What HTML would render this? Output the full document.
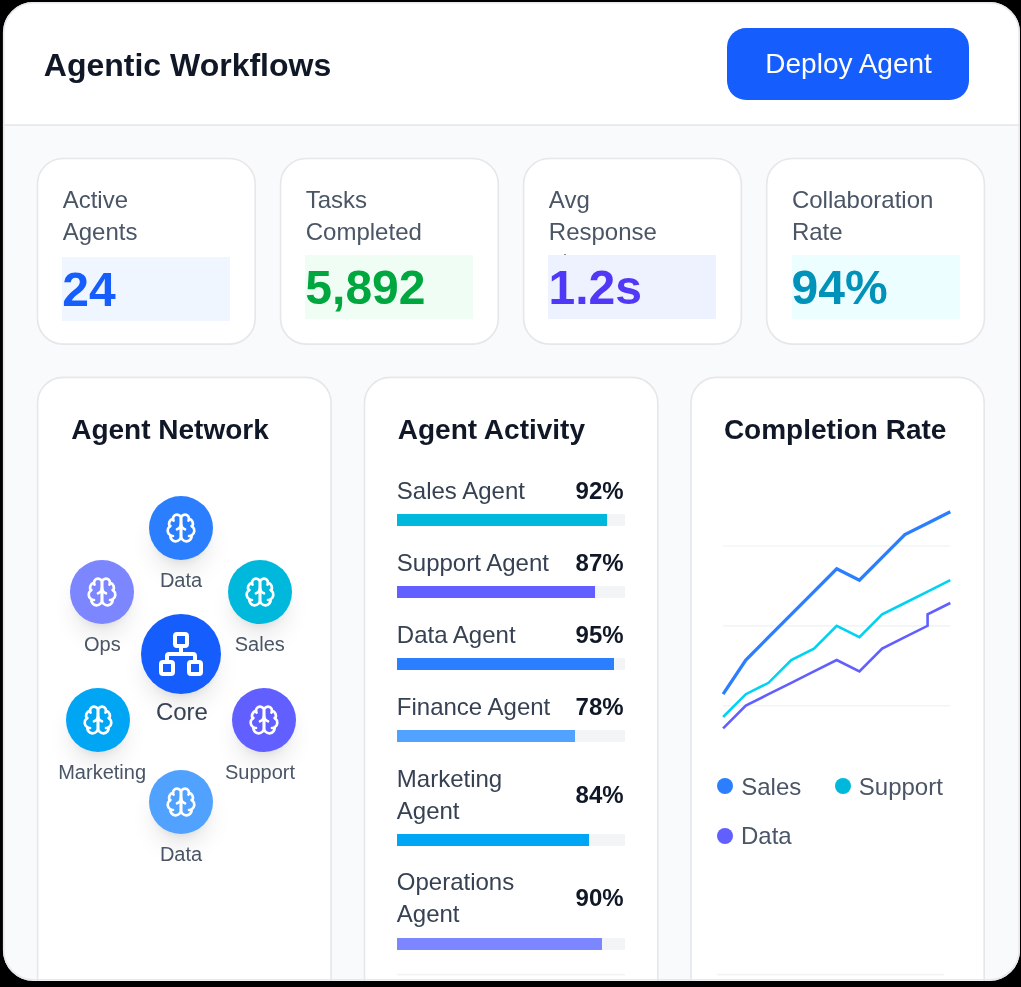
<!DOCTYPE html>
<html><head><meta charset="utf-8">
<style>
*{box-sizing:border-box;margin:0;padding:0}
html,body{width:1021px;height:987px;background:#000;overflow:hidden}
body{font-family:"Liberation Sans",sans-serif;position:relative}
.a{position:absolute}
.t{position:absolute;white-space:nowrap}
#clip{position:absolute;left:2.9px;top:2px;width:1017.1px;height:978.6px;border-radius:30.5px;overflow:hidden}
#c{position:absolute;left:-2.9px;top:-2px;width:1021px;height:987px;will-change:transform}
.title{font-size:32px;font-weight:700;line-height:40px;color:#101828}
.btn{background:#155dfc;border-radius:19.2px;color:#fff;font-size:28px;line-height:72px;text-align:center}
.lbl{font-size:24px;line-height:32px;color:#4a5565}
.vbox{position:absolute;width:168px;height:64px;font-size:48px;font-weight:700;line-height:64px;padding-top:1px}
.h2{font-size:28px;font-weight:700;line-height:36px;color:#101828}
.node{position:absolute;border-radius:50%;box-shadow:0 16px 24px -4.8px rgba(0,0,0,.1),0 6.4px 9.6px -6.4px rgba(0,0,0,.1);display:flex;align-items:center;justify-content:center}
.nl{font-size:20px;line-height:28px;color:#4a5565;text-align:center}
.core{font-size:24px;line-height:32px;color:#364153;text-align:center}
.al{font-size:24px;line-height:32px;color:#364153}
.pct{font-size:24px;line-height:32px;font-weight:700;color:#101828;text-align:right;width:80px}
.track{position:absolute;left:397px;width:228px;height:12px;background:#f3f4f6}
.fill{position:absolute;left:0;top:0;height:12px}
.leg{font-size:24px;line-height:32px;color:#4a5565}
.dot{position:absolute;width:16px;height:16px;border-radius:50%}
</style></head><body>

<div id="clip"><div id="c">
<svg class="a" style="left:0;top:0" width="1021" height="987" viewBox="0 0 1021 987">
<rect x="0" y="0" width="1021" height="987" fill="#f9fafb"/>
<rect x="0" y="0" width="1021" height="124.3" fill="#fff"/>
<rect x="0" y="124.3" width="1021" height="1.6" fill="#e5e7eb"/>
<rect x="37.50" y="158.5" width="217.7" height="185.6" rx="25.6" fill="#fff" stroke="#e5e7eb" stroke-width="1.60"/>
<rect x="280.57" y="158.5" width="217.7" height="185.6" rx="25.6" fill="#fff" stroke="#e5e7eb" stroke-width="1.60"/>
<rect x="523.64" y="158.5" width="217.7" height="185.6" rx="25.6" fill="#fff" stroke="#e5e7eb" stroke-width="1.60"/>
<rect x="766.71" y="158.5" width="217.7" height="185.6" rx="25.6" fill="#fff" stroke="#e5e7eb" stroke-width="1.60"/>
<rect x="37.60" y="377.4" width="293.50" height="700" rx="25.6" fill="#fff" stroke="#e5e7eb" stroke-width="1.60"/>
<rect x="364.50" y="377.4" width="293.30" height="700" rx="25.6" fill="#fff" stroke="#e5e7eb" stroke-width="1.60"/>
<rect x="691.00" y="377.4" width="293.20" height="700" rx="25.6" fill="#fff" stroke="#e5e7eb" stroke-width="1.60"/>
</svg>
<div class="t title" style="left:43.8px;top:44.81px">Agentic Workflows</div>
<div class="a btn" style="left:726.8px;top:28px;width:242.2px;height:72px;padding-left:1.4px">Deploy Agent</div>
<div class="t lbl" style="left:62.70px;top:184.08px">Active<br>Agents</div>
<div class="t lbl" style="left:305.77px;top:184.08px">Tasks<br>Completed</div>
<div class="t lbl" style="left:548.84px;top:184.08px">Avg<br>Response<br>Time</div>
<div class="t lbl" style="left:791.91px;top:184.08px">Collaboration<br>Rate</div>
<div class="vbox" style="left:62.30px;top:257.20px;background:#eff6ff;color:#155dfc">24</div>
<div class="vbox" style="left:305.37px;top:255.00px;background:#f0fdf4;color:#00a63e">5,892</div>
<div class="vbox" style="left:548.44px;top:255.00px;background:#eef2ff;color:#4f39f6">1.2s</div>
<div class="vbox" style="left:791.51px;top:255.00px;background:#ecfeff;color:#0092b8">94%</div>
<div class="a" style="left:563.6px;top:253.6px;width:2.6px;height:1.6px;border-radius:0.8px;background:#4a5565;opacity:.75"></div>
<div class="t h2" style="left:71.2px;top:411.90px">Agent Network</div>
<div class="t h2" style="left:397.8px;top:411.90px">Agent Activity</div>
<div class="t h2" style="left:723.9px;top:411.90px">Completion Rate</div>
<div class="node" style="left:149.00px;top:496.00px;width:64.00px;height:64.00px;background:#2b7fff"><svg width="32" height="32" viewBox="0 0 24 24" fill="none" stroke="#fff" stroke-width="2" stroke-linecap="round" stroke-linejoin="round"><path d="M12 5a3 3 0 1 0-5.997.125 4 4 0 0 0-2.526 5.77 4 4 0 0 0 .556 6.588A4 4 0 1 0 12 18Z"/><path d="M12 5a3 3 0 1 1 5.997.125 4 4 0 0 1 2.526 5.77 4 4 0 0 1-.556 6.588A4 4 0 1 1 12 18Z"/><path d="M15 13a4.5 4.5 0 0 1-3-4 4.5 4.5 0 0 1-3 4"/><path d="M17.599 6.5a3 3 0 0 0 .399-1.375"/><path d="M6.003 5.125A3 3 0 0 0 6.401 6.5"/><path d="M3.477 10.896a4 4 0 0 1 .585-.396"/><path d="M19.938 10.5a4 4 0 0 1 .585.396"/><path d="M6 18a4 4 0 0 1-1.967-.516"/><path d="M19.967 17.484A4 4 0 0 1 18 18"/></svg></div>
<div class="t nl" style="left:101.00px;top:565.87px;width:160px">Data</div>
<div class="node" style="left:69.60px;top:560.00px;width:64.00px;height:64.00px;background:#7c86ff"><svg width="32" height="32" viewBox="0 0 24 24" fill="none" stroke="#fff" stroke-width="2" stroke-linecap="round" stroke-linejoin="round"><path d="M12 5a3 3 0 1 0-5.997.125 4 4 0 0 0-2.526 5.77 4 4 0 0 0 .556 6.588A4 4 0 1 0 12 18Z"/><path d="M12 5a3 3 0 1 1 5.997.125 4 4 0 0 1 2.526 5.77 4 4 0 0 1-.556 6.588A4 4 0 1 1 12 18Z"/><path d="M15 13a4.5 4.5 0 0 1-3-4 4.5 4.5 0 0 1-3 4"/><path d="M17.599 6.5a3 3 0 0 0 .399-1.375"/><path d="M6.003 5.125A3 3 0 0 0 6.401 6.5"/><path d="M3.477 10.896a4 4 0 0 1 .585-.396"/><path d="M19.938 10.5a4 4 0 0 1 .585.396"/><path d="M6 18a4 4 0 0 1-1.967-.516"/><path d="M19.967 17.484A4 4 0 0 1 18 18"/></svg></div>
<div class="t nl" style="left:22.30px;top:630.07px;width:160px">Ops</div>
<div class="node" style="left:228.20px;top:560.00px;width:64.00px;height:64.00px;background:#00b8db"><svg width="32" height="32" viewBox="0 0 24 24" fill="none" stroke="#fff" stroke-width="2" stroke-linecap="round" stroke-linejoin="round"><path d="M12 5a3 3 0 1 0-5.997.125 4 4 0 0 0-2.526 5.77 4 4 0 0 0 .556 6.588A4 4 0 1 0 12 18Z"/><path d="M12 5a3 3 0 1 1 5.997.125 4 4 0 0 1 2.526 5.77 4 4 0 0 1-.556 6.588A4 4 0 1 1 12 18Z"/><path d="M15 13a4.5 4.5 0 0 1-3-4 4.5 4.5 0 0 1-3 4"/><path d="M17.599 6.5a3 3 0 0 0 .399-1.375"/><path d="M6.003 5.125A3 3 0 0 0 6.401 6.5"/><path d="M3.477 10.896a4 4 0 0 1 .585-.396"/><path d="M19.938 10.5a4 4 0 0 1 .585.396"/><path d="M6 18a4 4 0 0 1-1.967-.516"/><path d="M19.967 17.484A4 4 0 0 1 18 18"/></svg></div>
<div class="t nl" style="left:179.80px;top:630.07px;width:160px">Sales</div>
<div class="node" style="left:66.00px;top:688.00px;width:64.00px;height:64.00px;background:#00a6f4"><svg width="32" height="32" viewBox="0 0 24 24" fill="none" stroke="#fff" stroke-width="2" stroke-linecap="round" stroke-linejoin="round"><path d="M12 5a3 3 0 1 0-5.997.125 4 4 0 0 0-2.526 5.77 4 4 0 0 0 .556 6.588A4 4 0 1 0 12 18Z"/><path d="M12 5a3 3 0 1 1 5.997.125 4 4 0 0 1 2.526 5.77 4 4 0 0 1-.556 6.588A4 4 0 1 1 12 18Z"/><path d="M15 13a4.5 4.5 0 0 1-3-4 4.5 4.5 0 0 1-3 4"/><path d="M17.599 6.5a3 3 0 0 0 .399-1.375"/><path d="M6.003 5.125A3 3 0 0 0 6.401 6.5"/><path d="M3.477 10.896a4 4 0 0 1 .585-.396"/><path d="M19.938 10.5a4 4 0 0 1 .585.396"/><path d="M6 18a4 4 0 0 1-1.967-.516"/><path d="M19.967 17.484A4 4 0 0 1 18 18"/></svg></div>
<div class="t nl" style="left:22.10px;top:757.97px;width:160px">Marketing</div>
<div class="node" style="left:231.70px;top:688.00px;width:64.00px;height:64.00px;background:#615fff"><svg width="32" height="32" viewBox="0 0 24 24" fill="none" stroke="#fff" stroke-width="2" stroke-linecap="round" stroke-linejoin="round"><path d="M12 5a3 3 0 1 0-5.997.125 4 4 0 0 0-2.526 5.77 4 4 0 0 0 .556 6.588A4 4 0 1 0 12 18Z"/><path d="M12 5a3 3 0 1 1 5.997.125 4 4 0 0 1 2.526 5.77 4 4 0 0 1-.556 6.588A4 4 0 1 1 12 18Z"/><path d="M15 13a4.5 4.5 0 0 1-3-4 4.5 4.5 0 0 1-3 4"/><path d="M17.599 6.5a3 3 0 0 0 .399-1.375"/><path d="M6.003 5.125A3 3 0 0 0 6.401 6.5"/><path d="M3.477 10.896a4 4 0 0 1 .585-.396"/><path d="M19.938 10.5a4 4 0 0 1 .585.396"/><path d="M6 18a4 4 0 0 1-1.967-.516"/><path d="M19.967 17.484A4 4 0 0 1 18 18"/></svg></div>
<div class="t nl" style="left:180.00px;top:757.57px;width:160px">Support</div>
<div class="node" style="left:149.20px;top:770.00px;width:64.00px;height:64.00px;background:#51a2ff"><svg width="32" height="32" viewBox="0 0 24 24" fill="none" stroke="#fff" stroke-width="2" stroke-linecap="round" stroke-linejoin="round"><path d="M12 5a3 3 0 1 0-5.997.125 4 4 0 0 0-2.526 5.77 4 4 0 0 0 .556 6.588A4 4 0 1 0 12 18Z"/><path d="M12 5a3 3 0 1 1 5.997.125 4 4 0 0 1 2.526 5.77 4 4 0 0 1-.556 6.588A4 4 0 1 1 12 18Z"/><path d="M15 13a4.5 4.5 0 0 1-3-4 4.5 4.5 0 0 1-3 4"/><path d="M17.599 6.5a3 3 0 0 0 .399-1.375"/><path d="M6.003 5.125A3 3 0 0 0 6.401 6.5"/><path d="M3.477 10.896a4 4 0 0 1 .585-.396"/><path d="M19.938 10.5a4 4 0 0 1 .585.396"/><path d="M6 18a4 4 0 0 1-1.967-.516"/><path d="M19.967 17.484A4 4 0 0 1 18 18"/></svg></div>
<div class="t nl" style="left:101.00px;top:840.17px;width:160px">Data</div>
<div class="node" style="left:141.00px;top:614.00px;width:80.00px;height:80.00px;background:#155dfc"><svg width="48" height="48" viewBox="0 0 24 24" fill="none" stroke="#fff" stroke-width="2" stroke-linecap="round" stroke-linejoin="round"><rect x="16" y="16" width="6" height="6" rx="1"/><rect x="2" y="16" width="6" height="6" rx="1"/><rect x="9" y="2" width="6" height="6" rx="1"/><path d="M5 16v-3a1 1 0 0 1 1-1h12a1 1 0 0 1 1 1v3"/><path d="M12 12V8"/></svg></div>
<div class="t core" style="left:101.90px;top:696.38px;width:160px">Core</div>
<div class="t al" style="left:396.8px;top:475.18px">Sales Agent</div>
<div class="t pct" style="left:543.60px;top:475.18px">92%</div>
<div class="track" style="top:514.20px"><div class="fill" style="width:209.76px;background:#00b8db"></div></div>
<div class="t al" style="left:396.8px;top:546.98px">Support Agent</div>
<div class="t pct" style="left:543.60px;top:546.98px">87%</div>
<div class="track" style="top:586.00px"><div class="fill" style="width:198.36px;background:#615fff"></div></div>
<div class="t al" style="left:396.8px;top:619.08px">Data Agent</div>
<div class="t pct" style="left:543.60px;top:619.08px">95%</div>
<div class="track" style="top:658.40px"><div class="fill" style="width:216.60px;background:#2b7fff"></div></div>
<div class="t al" style="left:396.8px;top:690.88px">Finance Agent</div>
<div class="t pct" style="left:543.60px;top:690.88px">78%</div>
<div class="track" style="top:730.20px"><div class="fill" style="width:177.84px;background:#51a2ff"></div></div>
<div class="t al" style="left:396.8px;top:762.88px">Marketing</div>
<div class="t al" style="left:396.8px;top:794.68px">Agent</div>
<div class="t pct" style="left:543.60px;top:778.68px">84%</div>
<div class="track" style="top:834.00px"><div class="fill" style="width:191.52px;background:#00a6f4"></div></div>
<div class="t al" style="left:396.8px;top:866.48px">Operations</div>
<div class="t al" style="left:396.8px;top:898.38px">Agent</div>
<div class="t pct" style="left:543.60px;top:881.78px">90%</div>
<div class="track" style="top:938.40px"><div class="fill" style="width:205.20px;background:#7c86ff"></div></div>
<svg class="a" style="left:0;top:0" width="1021" height="987" viewBox="0 0 1021 987"><line x1="723.1" x2="950.3" y1="546.00" y2="546.00" stroke="#f3f4f6" stroke-width="1.6"/><line x1="723.1" x2="950.3" y1="625.90" y2="625.90" stroke="#f3f4f6" stroke-width="1.6"/><line x1="723.1" x2="950.3" y1="705.80" y2="705.80" stroke="#f3f4f6" stroke-width="1.6"/><line x1="717" x2="944" y1="974.6" y2="974.6" stroke="#f3f4f6" stroke-width="1.6"/><line x1="397" x2="625" y1="974.6" y2="974.6" stroke="#f3f4f6" stroke-width="1.6"/><polyline points="723.10,728.40 745.82,705.60 768.54,694.20 791.26,682.80 813.98,671.40 836.70,660.00 859.42,671.40 882.14,648.60 904.86,637.20 927.58,625.80 927.58,614.40 950.30,603.00" fill="none" stroke="#615fff" stroke-width="2.6"/><polyline points="723.10,717.00 745.82,694.20 768.54,682.80 791.26,660.00 813.98,648.60 836.70,625.80 859.42,637.20 882.14,614.40 904.86,603.00 927.58,591.60 950.30,580.20" fill="none" stroke="#00d3f2" stroke-width="2.6"/><polyline points="723.10,694.20 745.82,660.00 768.54,637.20 791.26,614.40 813.98,591.60 836.70,568.80 859.42,580.20 882.14,557.40 904.86,534.60 927.58,523.20 950.30,511.80" fill="none" stroke="#2b7fff" stroke-width="3.3"/></svg>
<div class="dot" style="left:717.20px;top:778.20px;background:#2b7fff"></div>
<div class="t leg" style="left:741.20px;top:770.68px">Sales</div>
<div class="dot" style="left:835.30px;top:778.20px;background:#00b8db"></div>
<div class="t leg" style="left:858.80px;top:770.68px">Support</div>
<div class="dot" style="left:717.20px;top:827.90px;background:#615fff"></div>
<div class="t leg" style="left:741.00px;top:820.38px">Data</div>
</div></div>
<svg class="a" style="left:0;top:0;pointer-events:none" width="1021" height="987" viewBox="0 0 1021 987"><rect x="3.70" y="2.80" width="1015.50" height="977.00" rx="29.70" fill="none" stroke="#e5e7eb" stroke-width="1.60"/></svg>
</body></html>
